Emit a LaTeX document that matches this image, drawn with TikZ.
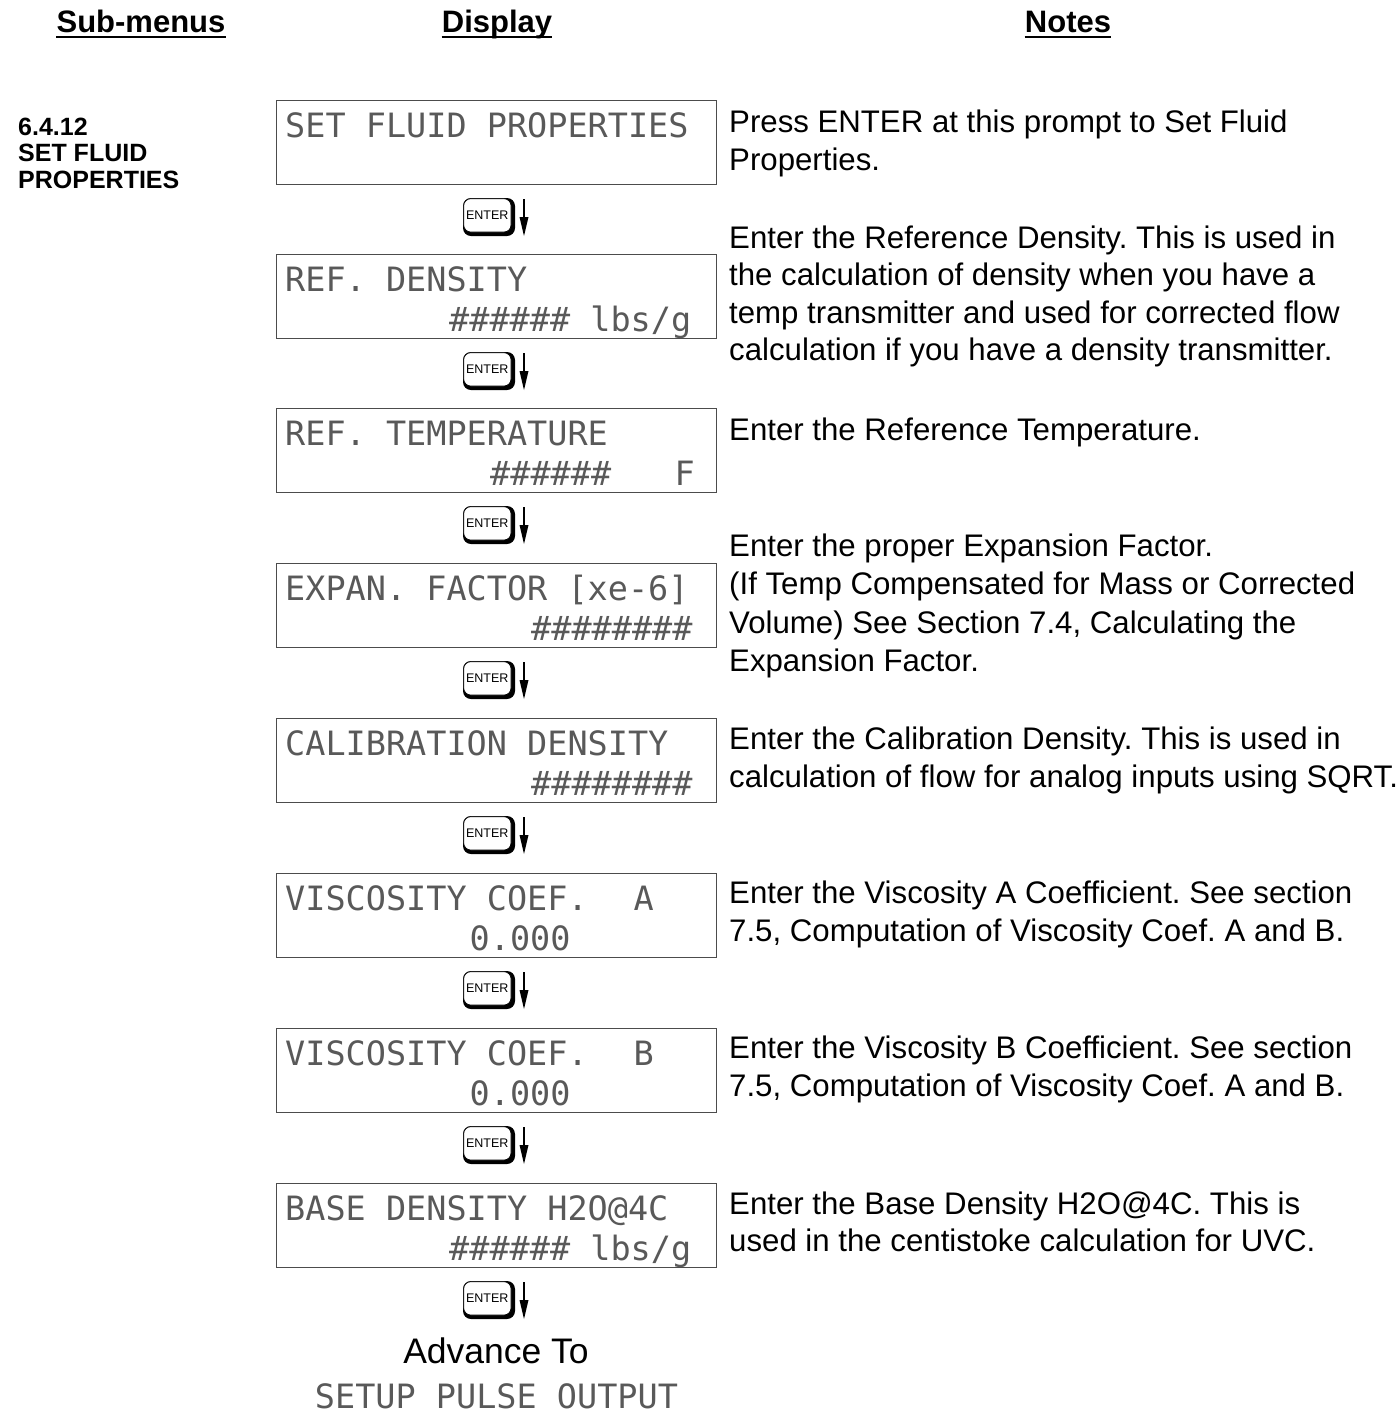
\documentclass[tikz,border=0pt]{standalone}
\usepackage{fontspec}
\setmainfont{Liberation Sans}
\newfontfamily\lcdfont{DejaVu Sans Mono}
\frenchspacing
\newcommand\lcdat[4]{\node[lcdtext] (#1) at ({285+20.5*#2},#3) {#4};}
\newcommand\noteline[3]{\node[notetext] (#1) at (729,#2) {#3};}
\newcommand\lcdpanel[2]{\node[lcdbox] (#1) at (276,#2) {};}
\newcommand\enterkey[2]{%
  \begin{scope}[shift={(489,#2)}]
    \fill[black, rounded corners=8pt] (-26,-19) rectangle (26,19);
    \filldraw[fill=white, draw=black, line width=0.7pt, rounded corners=7pt] (-25.3,-18.3) rectangle (22,15);
    \node[keytext] (#1) at (-1.8,-1.5) {ENTER};
    \draw[line width=1.4pt] (35,-18) -- (35,1);
    \fill (30.5,0) -- (39.5,0) -- (35,19) -- cycle;
  \end{scope}}
\begin{document}
\begin{tikzpicture}[x=1pt,y=-1pt,
  lcdbox/.style={draw=black!70, line width=1.2pt, anchor=north west, minimum width=440pt, minimum height=84pt, inner sep=0pt},
  lcdtext/.style={font=\lcdfont\fontsize{33.5}{36}\selectfont, text=black!65, inner sep=0pt, anchor=base west},
  notetext/.style={font=\fontsize{31.2}{38}\selectfont, inner sep=0pt, anchor=base west},
  hdr/.style={font=\bfseries\fontsize{31}{36}\selectfont, inner sep=0pt, anchor=base},
  lbl/.style={font=\bfseries\fontsize{25}{27}\selectfont, inner sep=0pt, anchor=base west},
  keytext/.style={font=\fontsize{12.5}{14}\selectfont, inner sep=0pt},
]
\useasboundingbox (0,0) rectangle (1400,1417);

% headers
\node[hdr] (h1) at (141,32) {Sub-menus};
\node[hdr] (h2) at (497,32) {Display};
\node[hdr] (h3) at (1068,32) {Notes};
\foreach \h in {h1,h2,h3}
  \draw[line width=2.6pt] ([yshift=-5pt]\h.base west) -- ([yshift=-5pt]\h.base east);

% left label
\node[lbl] (l1) at (18,135) {6.4.12};
\node[lbl] (l2) at (18,161.5) {SET FLUID};
\node[lbl] (l3) at (18,188) {PROPERTIES};

% display panels
\lcdpanel{b1}{100}
\lcdpanel{b2}{254}
\lcdpanel{b3}{408}
\lcdpanel{b4}{563}
\lcdpanel{b5}{718}
\lcdpanel{b6}{873}
\lcdpanel{b7}{1028}
\lcdpanel{b8}{1183}

\lcdat{t1a}{0}{137}{SET FLUID PROPERTIES}
\lcdat{t2a}{0}{291}{REF. DENSITY}
\lcdat{t2b}{8}{331}{\#\#\#\#\#\# lbs/g}
\lcdat{t3a}{0}{445}{REF. TEMPERATURE}
\lcdat{t3b}{10}{485}{\#\#\#\#\#\#}
\lcdat{t3c}{19}{485}{F}
\lcdat{t4a}{0}{600}{EXPAN. FACTOR [xe-6]}
\lcdat{t4b}{12}{640}{\#\#\#\#\#\#\#\#}
\lcdat{t5a}{0}{755}{CALIBRATION DENSITY}
\lcdat{t5b}{12}{795}{\#\#\#\#\#\#\#\#}
\lcdat{t6a}{0}{910}{VISCOSITY COEF.}
\lcdat{t6c}{17}{910}{A}
\lcdat{t6b}{9}{950}{0.000}
\lcdat{t7a}{0}{1065}{VISCOSITY COEF.}
\lcdat{t7c}{17}{1065}{B}
\lcdat{t7b}{9}{1105}{0.000}
\lcdat{t8a}{0}{1220}{BASE DENSITY H2O@4C}
\lcdat{t8b}{8}{1260}{\#\#\#\#\#\# lbs/g}

% enter keys
\enterkey{k1}{217}
\enterkey{k2}{371}
\enterkey{k3}{525}
\enterkey{k4}{680}
\enterkey{k5}{835}
\enterkey{k6}{990}
\enterkey{k7}{1145}
\enterkey{k8}{1300}

% advance to
\node[font=\fontsize{35.5}{40}\selectfont, inner sep=0pt, anchor=base] (adv) at (496,1363) {Advance To};
\node[lcdtext, anchor=base] (nxt) at (496.5,1408) {SETUP PULSE OUTPUT};

% notes
\noteline{n1a}{132}{Press ENTER at this prompt to Set Fluid}
\noteline{n1b}{170}{Properties.}
\noteline{n2a}{248}{Enter the Reference Density. This is used in}
\noteline{n2b}{285}{the calculation of density when you have a}
\noteline{n2c}{323}{temp transmitter and used for corrected flow}
\noteline{n2d}{360}{calculation if you have a density transmitter.}
\noteline{n3a}{440}{Enter the Reference Temperature.}
\noteline{n4a}{556}{Enter the proper Expansion Factor.}
\noteline{n4b}{594}{(If Temp Compensated for Mass or Corrected}
\noteline{n4c}{633}{Volume) See Section 7.4, Calculating the}
\noteline{n4d}{671}{Expansion Factor.}
\noteline{n5a}{749}{Enter the Calibration Density. This is used in}
\noteline{n5b}{787}{calculation of flow for analog inputs using SQRT.}
\noteline{n6a}{903}{Enter the Viscosity A Coefficient. See section}
\noteline{n6b}{941}{7.5, Computation of Viscosity Coef. A and B.}
\noteline{n7a}{1058}{Enter the Viscosity B Coefficient. See section}
\noteline{n7b}{1096}{7.5, Computation of Viscosity Coef. A and B.}
\noteline{n8a}{1214}{Enter the Base Density H2O@4C. This is}
\noteline{n8b}{1251}{used in the centistoke calculation for UVC.}
\end{tikzpicture}
\end{document}
